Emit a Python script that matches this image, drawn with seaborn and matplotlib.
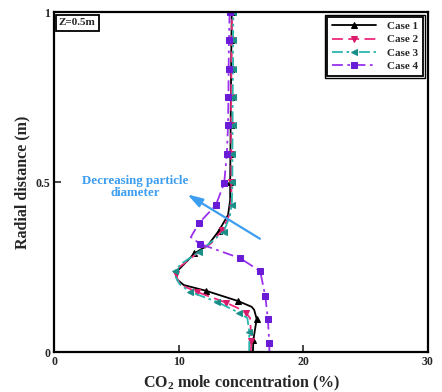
import matplotlib
matplotlib.use("Agg")
import matplotlib.pyplot as plt
from matplotlib.patches import Rectangle
import seaborn as sns

# Radial CO2 profiles at Z = 0.5 m for four particle-diameter cases
y1 = [0.0, 0.035, 0.097, 0.124, 0.133, 0.15, 0.18, 0.197, 0.212, 0.222, 0.241,
      0.29, 0.315, 0.356, 0.403, 0.447, 0.5, 0.583, 0.667, 0.75, 0.833, 0.917, 1.0]
x1 = [15.95, 15.98, 16.25, 16.05, 15.85, 14.75, 12.2, 10.4, 9.9, 9.8, 9.95,
      11.25, 12.35, 13.2, 13.95, 14.12, 14.12, 14.14, 14.16, 14.18, 14.2, 14.22, 14.25]
m1 = [1, 2, 5, 6, 11, 13, 16, 17, 18, 19, 20, 21, 22]

y2 = [0.0, 0.033, 0.1, 0.115, 0.13, 0.145, 0.177, 0.195, 0.21, 0.23, 0.25,
      0.29, 0.32, 0.36, 0.403, 0.447, 0.5, 0.583, 0.667, 0.75, 0.833, 0.917, 1.0]
x2 = [15.78, 15.82, 15.72, 15.4, 14.7, 13.8, 11.45, 10.3, 9.9, 9.8, 10.05,
      11.45, 12.6, 13.5, 14.05, 14.22, 14.22, 14.2, 14.2, 14.2, 14.22, 14.25, 14.28]
m2 = [1, 3, 5, 6, 9, 13, 16, 17, 18, 19, 20, 21, 22]

y3 = [0.0, 0.06, 0.1, 0.115, 0.147, 0.177, 0.2, 0.22, 0.239, 0.26, 0.295,
      0.354, 0.40, 0.434, 0.5, 0.583, 0.667, 0.75, 0.833, 0.917, 1.0]
x3 = [15.65, 15.65, 15.5, 14.85, 13.1, 10.9, 10.05, 9.75, 9.72, 10.2, 11.65,
      13.6, 14.1, 14.25, 14.3, 14.3, 14.32, 14.32, 14.35, 14.35, 14.38]
m3 = [1, 3, 4, 5, 8, 10, 11, 13, 14, 15, 16, 17, 18, 19, 20]

y4 = [0.0, 0.027, 0.097, 0.165, 0.238, 0.276, 0.318, 0.338, 0.38, 0.432,
      0.497, 0.582, 0.667, 0.75, 0.833, 0.917, 1.0]
x4 = [17.27, 17.26, 17.15, 16.94, 16.53, 14.92, 11.71, 10.96, 11.63, 12.97,
      13.64, 13.85, 13.95, 13.98, 14.0, 14.02, 14.08]
m4 = [1, 2, 3, 4, 5, 6, 8, 9, 10, 11, 12, 13, 14, 15, 16]

labels = ["Case 1", "Case 2", "Case 3", "Case 4"]
x_ticks = [0, 10, 20, 30]
y_ticks = [0, 0.5, 1]
y_ticklabels = ["0", "0.5", "1"]

sns.set_style("ticks")
plt.rcParams["font.family"] = ["Liberation Serif", "DejaVu Serif"]
plt.rcParams["font.weight"] = "bold"
plt.rcParams["mathtext.fontset"] = "custom"
plt.rcParams["mathtext.rm"] = "Liberation Serif:bold"
plt.rcParams["mathtext.bf"] = "Liberation Serif:bold"
plt.rcParams["mathtext.default"] = "rm"

fig = plt.figure(figsize=(4.42, 3.92), dpi=100)
ax = fig.add_axes([0.123, 0.102, 0.845, 0.867])

series = [
    (x1, y1, m1, dict(color="black", linestyle="-", marker="^",
                      mfc="black", mec="black")),
    (x2, y2, m2, dict(color="#ee2a7b", linestyle=(0, (6, 3)), marker="v",
                      mfc="#d81b6a", mec="#d81b6a")),
    (x3, y3, m3, dict(color="#2bb5ae", linestyle=(0, (6, 2, 1.5, 2, 1.5, 2)), marker="<",
                      mfc="#1a8f88", mec="#1a8f88")),
    (x4, y4, m4, dict(color="#9b30ee", linestyle=(0, (6, 2.5, 1.5, 2.5)), marker="s",
                      mfc="#6a1bd6", mec="#6a1bd6")),
]

for (xs, ys, mk, st), lab in zip(series, labels):
    sns.lineplot(x=xs, y=ys, sort=False, estimator=None, ax=ax, lw=1.3,
                 markersize=3.8, markevery=mk, label=lab, **st)

ax.set_xlim(0, 30)
ax.set_ylim(0, 1)
ax.set_xticks(x_ticks)
ax.set_xticklabels([str(t) for t in x_ticks])
ax.set_yticks(y_ticks)
ax.set_yticklabels(y_ticklabels)
ax.tick_params(direction="in", length=5, width=1.2, labelsize=8.5, pad=3)
for s in ax.spines.values():
    s.set_linewidth(1.6)
    s.set_color("black")

ax.set_xlabel("CO$_{2}$ mole concentration (%)", fontsize=11.5,
              fontweight="bold", labelpad=4)
ax.set_ylabel("Radial distance (m)", fontsize=11.5, fontweight="bold", labelpad=4)

leg = ax.legend(loc="upper right", fontsize=8, frameon=True, fancybox=False,
                edgecolor="black", framealpha=1, handlelength=4.0,
                borderaxespad=0.4, labelspacing=0.3, handletextpad=1.0,
                borderpad=0.45)
leg.get_frame().set_linewidth(1.3)
for t in leg.get_texts():
    t.set_fontweight("bold")

ax.text(0.012, 0.982, "Z=0.5m", transform=ax.transAxes, ha="left", va="top",
        fontsize=8, fontweight="bold",
        bbox=dict(boxstyle="square,pad=0.3", fc="white", ec="black", lw=1.3))

ax.annotate("", xy=(10.5, 0.468), xytext=(16.7, 0.329),
            arrowprops=dict(arrowstyle="-|>,head_length=0.9,head_width=0.28",
                            color="#3d9df0", lw=1.6))
ax.text(6.5, 0.487, "Decreasing particle\ndiameter", ha="center", va="center",
        fontsize=9.3, fontweight="bold", color="#3d9df0", linespacing=1.0)

# second outline around the legend frame
fig.canvas.draw()
bb = leg.get_frame().get_window_extent().transformed(ax.transAxes.inverted())
pad_x = 2.0 / (ax.bbox.width)
pad_y = 2.0 / (ax.bbox.height)
ax.add_patch(Rectangle((bb.x0 - pad_x, bb.y0 - pad_y), bb.width + 2 * pad_x,
                       bb.height + 2 * pad_y, transform=ax.transAxes,
                       fill=False, ec="black", lw=1.0, zorder=6, clip_on=False))

fig.savefig("out.png", dpi=100)
